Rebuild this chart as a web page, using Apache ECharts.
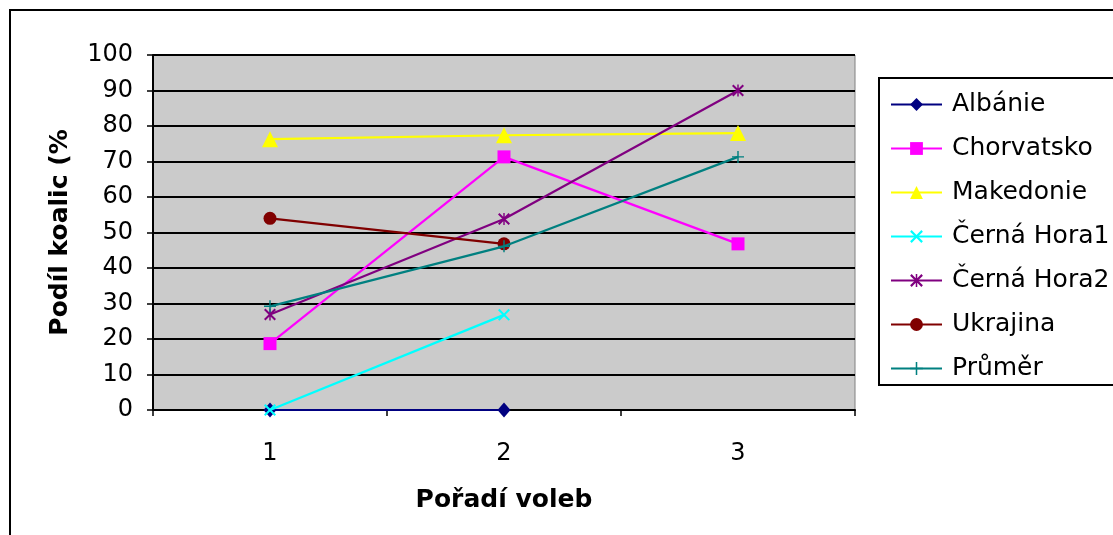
<!DOCTYPE html>
<html>
<head>
<meta charset="utf-8">
<script src="https://cdn.jsdelivr.net/npm/echarts@6/dist/echarts.min.js"></script>
<style>
html,body{margin:0;padding:0;background:#fff;}
#chart{width:1113px;height:535px;}
</style>
</head>
<body>
<div id="chart"></div>
<script>
var categories = ['1', '2', '3'];
var seriesNames = ['Albánie', 'Chorvatsko', 'Makedonie', 'Černá Hora1', 'Černá Hora2', 'Ukrajina', 'Průměr'];
var albanie = [0, 0, null];
var chorvatsko = [18.7, 71.3, 46.8];
var makedonie = [76.3, 77.4, 78];
var cernaHora1 = [0, 26.8, null];
var cernaHora2 = [26.9, 53.8, 90];
var ukrajina = [54, 46.8, null];
var prumer = [29.2, 46.1, 71.3];
var yTicks = [0, 10, 20, 30, 40, 50, 60, 70, 80, 90, 100];

var FONT = 'DejaVu Sans';
var X_PATH = 'path://M0,1.2L1.2,0L5,3.8L8.8,0L10,1.2L6.2,5L10,8.8L8.8,10L5,6.2L1.2,10L0,8.8L3.8,5Z';
var STAR_PATH = 'path://M0,1.2L1.2,0L5,3.8L8.8,0L10,1.2L6.2,5L10,8.8L8.8,10L5,6.2L1.2,10L0,8.8L3.8,5Z M4.4,0H5.6V10H4.4Z';
var PLUS_PATH = 'path://M4.4,0H5.6V4.4H10V5.6H5.6V10H4.4V5.6H0V4.4H4.4Z';

var values = [albanie, chorvatsko, makedonie, cernaHora1, cernaHora2, ukrajina, prumer];
var colors = ['#000080', '#FF00FF', '#FFFF00', '#00FFFF', '#800080', '#800000', '#008080'];
var symbols = ['diamond', 'rect', 'triangle', X_PATH, STAR_PATH, 'circle', PLUS_PATH];
var sizes = [[13, 15], 13, 16, 12, 12, 13, 12];

var series = seriesNames.map(function (n, i) {
  return {
    name: n,
    type: 'line',
    data: values[i],
    symbol: symbols[i],
    symbolSize: sizes[i],
    showSymbol: true,
    color: colors[i],
    lineStyle: { color: colors[i], width: 2.2 },
    itemStyle: { color: colors[i], borderWidth: 0 },
    emphasis: { disabled: true },
    z: 3 + i
  };
});

var chart = echarts.init(document.getElementById('chart'), null, { renderer: 'canvas' });
chart.setOption({
  animation: false,
  backgroundColor: '#ffffff',
  textStyle: { fontFamily: FONT },
  graphic: [
    { type: 'rect', shape: { x: 10, y: 10, width: 1300, height: 700 }, style: { fill: 'none', stroke: '#000', lineWidth: 2 }, silent: true },
    { type: 'rect', shape: { x: 879, y: 78, width: 400, height: 307 }, style: { fill: '#fff', stroke: '#000', lineWidth: 2 }, silent: true, z: 1 }
  ],
  grid: {
    left: 153, top: 55, width: 702, height: 355,
    show: true, backgroundColor: '#cbcbcb', borderColor: '#808080', borderWidth: 1,
    containLabel: false
  },
  legend: {
    orient: 'vertical',
    left: 890, top: 92,
    padding: 0,
    itemGap: 19,
    itemWidth: 51,
    itemHeight: 16,
    data: seriesNames,
    z: 10,
    textStyle: { fontFamily: FONT, fontSize: 25, color: '#000', lineHeight: 24, padding: [0, 0, 0, 5] }
  },
  xAxis: {
    type: 'category',
    data: categories,
    boundaryGap: true,
    name: 'Pořadí voleb',
    nameLocation: 'middle',
    nameGap: 78,
    nameTextStyle: { fontFamily: FONT, fontSize: 25, fontWeight: 'bold', color: '#000', verticalAlign: 'top' },
    axisLine: { show: true, lineStyle: { color: '#000', width: 2 } },
    axisTick: { show: true, length: 6, lineStyle: { color: '#000', width: 1.5 } },
    axisLabel: { fontFamily: FONT, fontSize: 24, color: '#000', margin: 32 },
    splitLine: { show: false }
  },
  yAxis: {
    type: 'value',
    min: 0, max: 100, interval: 10,
    name: 'Podíl koalic (%',
    nameLocation: 'middle',
    nameGap: 80,
    nameTextStyle: { fontFamily: FONT, fontSize: 25, fontWeight: 'bold', color: '#000' },
    axisLine: { show: true, lineStyle: { color: '#000', width: 2 } },
    axisTick: { show: true, length: 6, lineStyle: { color: '#000', width: 1.5 } },
    axisLabel: {
      fontFamily: FONT, fontSize: 24, color: '#000', margin: 20,
      formatter: function (v) { return yTicks.indexOf(v) >= 0 ? String(v) : ''; }
    },
    splitLine: { show: true, lineStyle: { color: '#000', width: 2 } }
  },
  series: series
});
</script>
</body>
</html>
